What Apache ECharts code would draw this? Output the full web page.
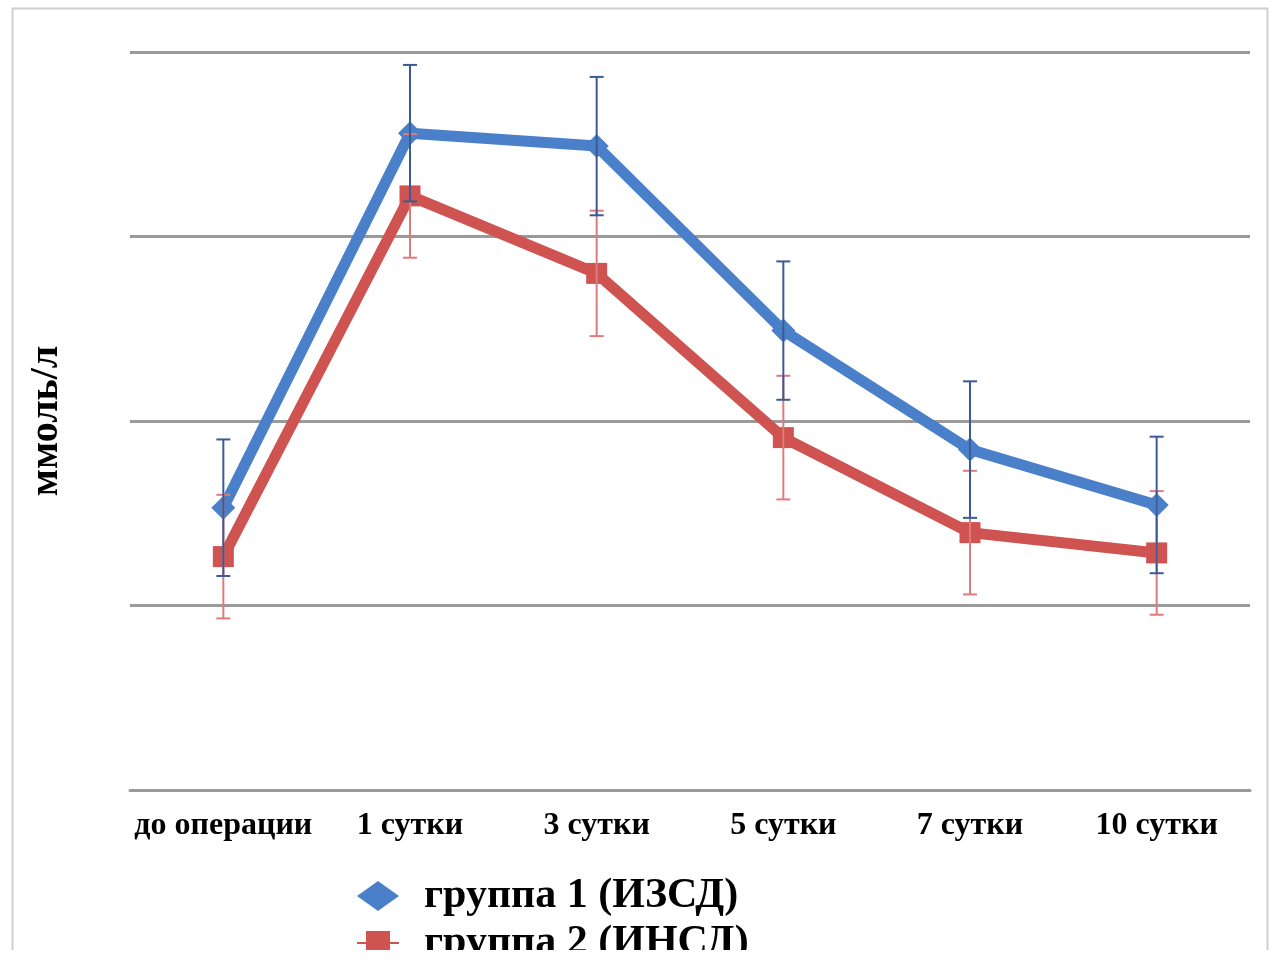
<!DOCTYPE html>
<html>
<head>
    <meta charset="utf-8"/>
    <script src="https://cdn.jsdelivr.net/npm/echarts@6/dist/echarts.min.js"></script>
    <style>
        html, body { margin: 0; padding: 0; background: #fff; }
    </style>
</head>
<body>
<div id="main" style="width: 1274px;height:965px;"></div>
<script type="text/javascript">
    // данные
    var categories = ['до операции', '1 сутки', '3 сутки', '5 сутки', '7 сутки', '10 сутки'];
    var group1 = [3.06, 7.12, 6.98, 4.98, 3.69, 3.09];
    var group2 = [2.53, 6.44, 5.60, 3.82, 2.79, 2.57];
    var err1 = [0.74, 0.74, 0.75, 0.75, 0.74, 0.74];
    var err2 = [0.67, 0.67, 0.68, 0.67, 0.67, 0.67];

    var serif = '"Liberation Serif", "DejaVu Serif", serif';

    function errData(vals, errs) {
        return vals.map(function (v, i) { return [i, v - errs[i], v + errs[i]]; });
    }

    function errRender(color) {
        return function (params, api) {
            var x = api.value(0);
            var lo = api.coord([x, api.value(1)]);
            var hi = api.coord([x, api.value(2)]);
            var w = 7;
            var st = {stroke: color, lineWidth: 2};
            return {
                type: 'group',
                children: [
                    {type: 'line', shape: {x1: lo[0], y1: lo[1], x2: hi[0], y2: hi[1]}, style: st},
                    {type: 'line', shape: {x1: lo[0] - w, y1: lo[1], x2: lo[0] + w, y2: lo[1]}, style: st},
                    {type: 'line', shape: {x1: hi[0] - w, y1: hi[1], x2: hi[0] + w, y2: hi[1]}, style: st}
                ]
            };
        };
    }

    var myChart = echarts.init(document.getElementById('main'));

    var option = {
        backgroundColor: '#fff',
        animation: false,
        grid: {left: 130, right: 24, top: 52, bottom: 175},
        legend: {
            orient: 'vertical',
            left: 356,
            top: 875,
            padding: 0,
            itemGap: 5,
            itemWidth: 42,
            itemHeight: 30,
            data: [
                {name: 'группа 1 (ИЗСД)', icon: 'diamond'},
                {name: 'группа 2 (ИНСД)'}
            ],
            textStyle: {fontFamily: serif, fontWeight: 'bold', fontSize: 42, lineHeight: 40, color: '#000', padding: [0, 0, 0, 20]}
        },
        xAxis: {
            type: 'category',
            data: categories,
            boundaryGap: true,
            axisLine: {lineStyle: {color: '#9a9a9a', width: 3}},
            axisTick: {show: false},
            axisLabel: {interval: 0, fontFamily: serif, fontWeight: 'bold', fontSize: 32, color: '#000', margin: 20}
        },
        yAxis: {
            type: 'value',
            min: 0,
            max: 8,
            interval: 2,
            name: 'ммоль/л',
            nameLocation: 'middle',
            nameRotate: 90,
            nameGap: 63,
            nameTextStyle: {fontFamily: serif, fontWeight: 'bold', fontSize: 40, color: '#000'},
            axisLine: {show: false},
            axisTick: {show: false},
            axisLabel: {show: false},
            splitLine: {lineStyle: {color: '#9a9a9a', width: 3}}
        },
        series: [
            {
                name: 'группа 1 (ИЗСД)',
                type: 'line',
                data: group1,
                symbol: 'diamond',
                symbolSize: 24,
                color: '#4a7fca',
                lineStyle: {width: 11, color: '#4a7fca'},
                z: 2
            },
            {
                name: 'группа 2 (ИНСД)',
                type: 'line',
                data: group2,
                symbol: 'rect',
                symbolSize: 21,
                color: '#cf5350',
                lineStyle: {width: 11, color: '#cf5350'},
                z: 3
            },
            {
                type: 'custom',
                name: 'err2',
                renderItem: errRender('#e07b7b'),
                data: errData(group2, err2),
                z: 5
            },
            {
                type: 'custom',
                name: 'err1',
                renderItem: errRender('#3b5a96'),
                data: errData(group1, err1),
                z: 6
            }
        ],
        graphic: [
            {
                type: 'rect',
                left: 10, top: 6,
                shape: {width: 1255, height: 975},
                style: {fill: 'none', stroke: '#cfcfcf', lineWidth: 2},
                z: 1
            },
            {
                type: 'rect',
                left: 0, top: 950,
                shape: {width: 1274, height: 15},
                style: {fill: '#fff'},
                z: 100
            }
        ]
    };

    myChart.setOption(option);
</script>
</body>
</html>
